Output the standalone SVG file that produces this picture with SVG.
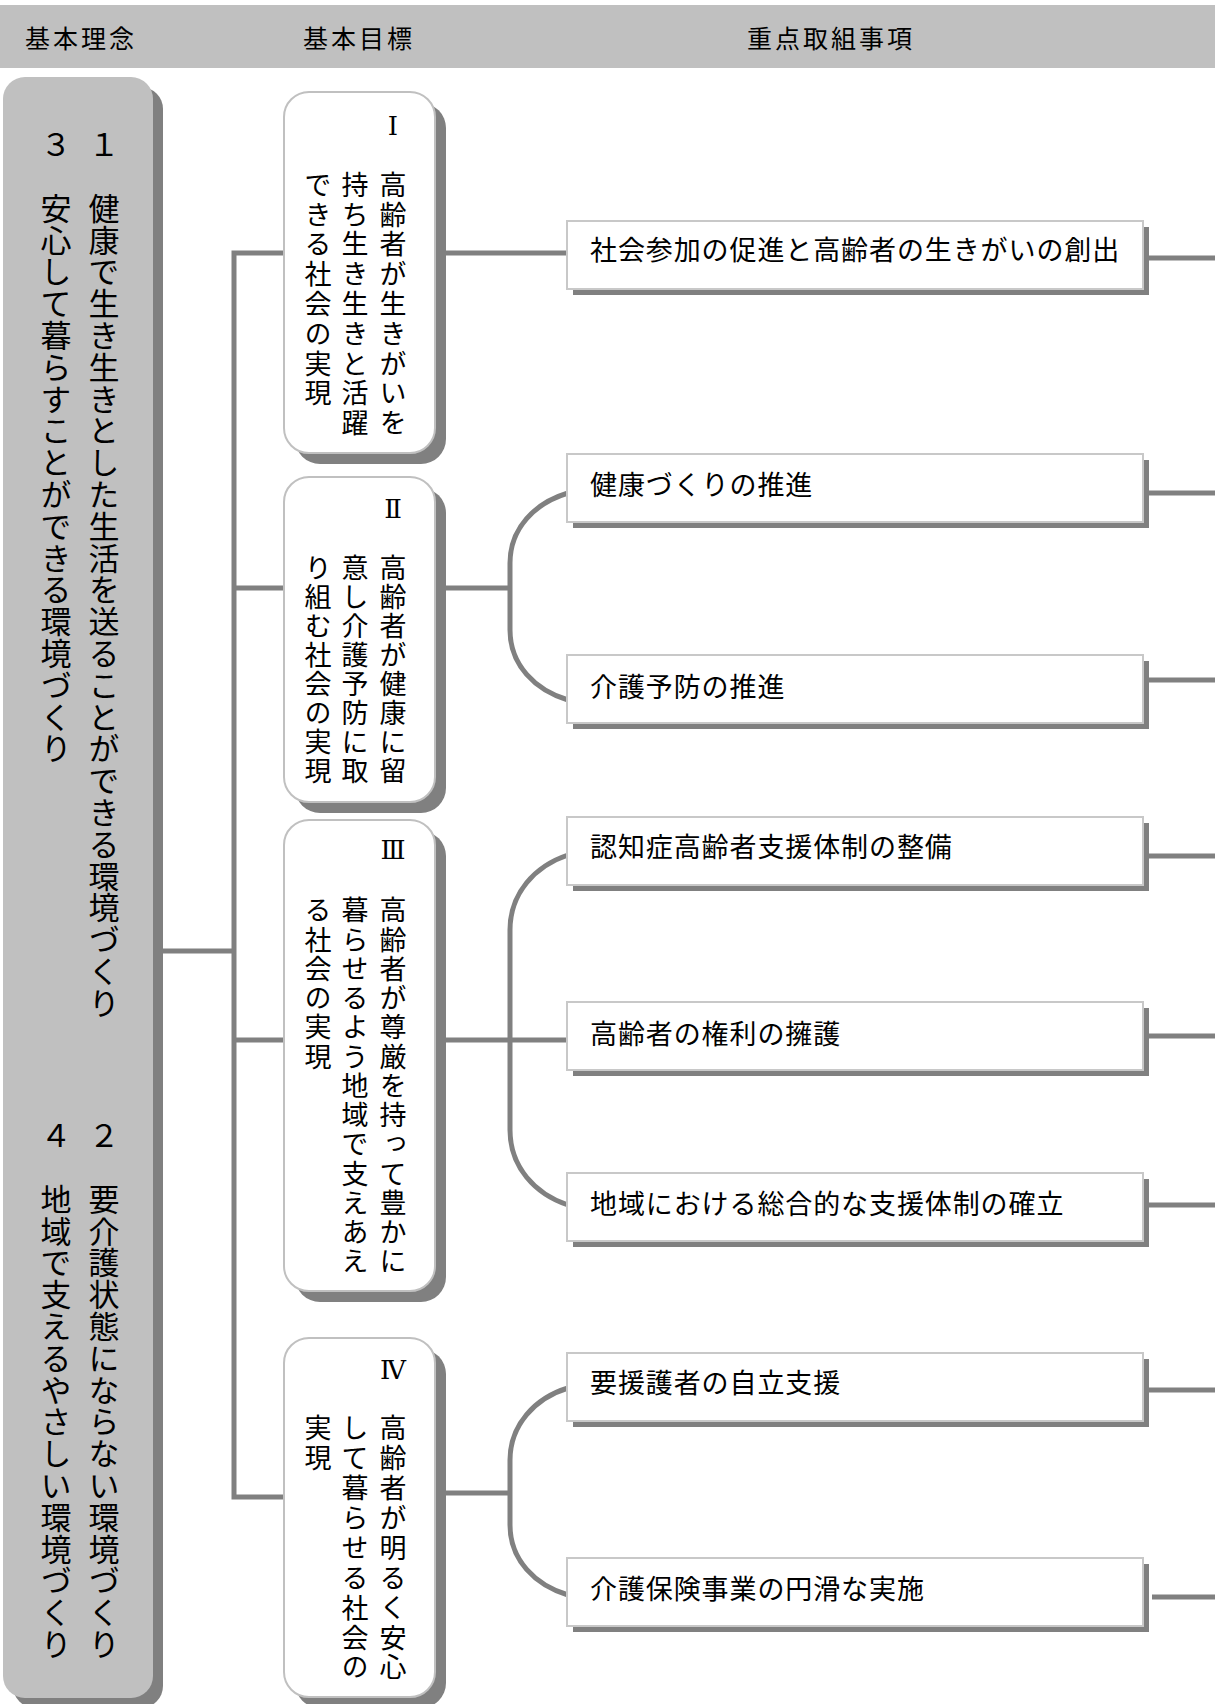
<svg xmlns="http://www.w3.org/2000/svg" width="1215" height="1704" viewBox="0 0 1215 1704">
<style>
.hdr{font-family:"Noto Sans CJK JP","Noto Sans CJK SC",sans-serif;font-size:25px;letter-spacing:3px;dominant-baseline:central;fill:#000}
.vt{font-family:"Noto Sans CJK JP","Noto Sans CJK SC",sans-serif;writing-mode:vertical-rl;fill:#000}
.big{font-size:31px;letter-spacing:0.8px}
.goal{font-size:27px}
.num{font-family:"DejaVu Serif","Liberation Serif","Noto Sans CJK JP",serif;font-size:26px;text-anchor:middle;dominant-baseline:central;fill:#000}
.pt{font-family:"Noto Sans CJK JP","Noto Sans CJK SC",sans-serif;font-size:27px;letter-spacing:0.9px;dominant-baseline:central;fill:#000}
.shadow{fill:#808080}
.bigbox{fill:#c0c0c0}
.gbox{fill:#fff;stroke:#c0c0c0;stroke-width:2}
.pbox{fill:#fff;stroke:#c8c8c8;stroke-width:2}
.conn{fill:none;stroke:#808080;stroke-width:5;stroke-linejoin:miter}
</style>

<g id="header">
  <rect x="0" y="5" width="1215" height="63" fill="#c0c0c0"/>
  <text class="hdr" x="25" y="37">基本理念</text>
  <text class="hdr" x="303" y="37">基本目標</text>
  <text class="hdr" x="747" y="37">重点取組事項</text>
</g>

<g id="connectors">
  <path class="conn" d="M163,951 H234"/>
  <path class="conn" d="M286,253 H234 V1497 H286"/>
  <path class="conn" d="M234,588 H286"/>
  <path class="conn" d="M234,1040 H286"/>
  <path class="conn" d="M435,253 H568"/>
  <path class="conn" d="M435,588 H510"/>
  <path class="conn" d="M435,1040 H568"/>
  <path class="conn" d="M435,1493 H510"/>
  <path class="conn" d="M568,493 C535,503 510,528 510,563 L510,630 C510,665 535,690 568,700"/>
  <path class="conn" d="M568,855 C535,866 510,893 510,930 L510,1130 C510,1167 535,1194 568,1205"/>
  <path class="conn" d="M568,1388 C535,1398 510,1425 510,1460 L510,1525 C510,1560 535,1585 568,1595"/>
  <path class="conn" d="M1145,258 H1215"/>
  <path class="conn" d="M1145,493 H1215"/>
  <path class="conn" d="M1145,680 H1215"/>
  <path class="conn" d="M1145,856 H1215"/>
  <path class="conn" d="M1145,1036 H1215"/>
  <path class="conn" d="M1145,1205 H1215"/>
  <path class="conn" d="M1145,1390 H1215"/>
  <path class="conn" d="M1152,1597 H1215"/>
</g>

<g id="principle">
  <rect class="shadow" x="13" y="87" width="150" height="1621" rx="22"/>
  <rect class="bigbox" x="3" y="77" width="150" height="1621" rx="22"/>
  <text class="vt big" x="104" y="129">１　健康で生き生きとした生活を送ることができる環境づくり</text>
  <text class="vt big" x="56" y="129">３　安心して暮らすことができる環境づくり</text>
  <text class="vt big" x="104" y="1120">２　要介護状態にならない環境づくり</text>
  <text class="vt big" x="56" y="1120">４　地域で支えるやさしい環境づくり</text>
</g>

<g id="goal-1">
  <rect class="shadow" x="295" y="103" width="151" height="361" rx="25"/>
  <rect class="gbox" x="284" y="92" width="151" height="361" rx="25"/>
  <text class="num" x="393" y="126">Ⅰ</text>
  <text class="vt goal" x="393" y="171" letter-spacing="2.8">高齢者が生きがいを</text>
  <text class="vt goal" x="355" y="171" letter-spacing="2.8">持ち生き生きと活躍</text>
  <text class="vt goal" x="318" y="171" letter-spacing="2.8">できる社会の実現</text>
</g>

<g id="goal-2">
  <rect class="shadow" x="295" y="488" width="151" height="325" rx="25"/>
  <rect class="gbox" x="284" y="477" width="151" height="325" rx="25"/>
  <text class="num" x="393" y="509">Ⅱ</text>
  <text class="vt goal" x="393" y="554.5" letter-spacing="1.9">高齢者が健康に留</text>
  <text class="vt goal" x="355" y="554.5" letter-spacing="1.9">意し介護予防に取</text>
  <text class="vt goal" x="318" y="554.5" letter-spacing="1.9">り組む社会の実現</text>
</g>

<g id="goal-3">
  <rect class="shadow" x="295" y="831" width="151" height="471" rx="25"/>
  <rect class="gbox" x="284" y="820" width="151" height="471" rx="25"/>
  <text class="num" x="393" y="850">Ⅲ</text>
  <text class="vt goal" x="393" y="896.5" letter-spacing="2.25">高齢者が尊厳を持って豊かに</text>
  <text class="vt goal" x="355" y="896.5" letter-spacing="2.25">暮らせるよう地域で支えあえ</text>
  <text class="vt goal" x="318" y="896.5" letter-spacing="2.25">る社会の実現</text>
</g>

<g id="goal-4">
  <rect class="shadow" x="295" y="1349" width="151" height="359" rx="25"/>
  <rect class="gbox" x="284" y="1338" width="151" height="359" rx="25"/>
  <text class="num" x="393" y="1370">Ⅳ</text>
  <text class="vt goal" x="393" y="1414.5" letter-spacing="2.9">高齢者が明るく安心</text>
  <text class="vt goal" x="355" y="1414.5" letter-spacing="2.9">して暮らせる社会の</text>
  <text class="vt goal" x="318" y="1414.5" letter-spacing="2.9">実現</text>
</g>

<g id="item-1">
  <rect class="shadow" x="573" y="227" width="576" height="68"/>
  <rect class="pbox" x="567" y="221" width="576" height="68"/>
  <text class="pt" x="590" y="248">社会参加の促進と高齢者の生きがいの創出</text>
</g>
<g id="item-2">
  <rect class="shadow" x="573" y="460" width="576" height="68"/>
  <rect class="pbox" x="567" y="454" width="576" height="68"/>
  <text class="pt" x="590" y="483">健康づくりの推進</text>
</g>
<g id="item-3">
  <rect class="shadow" x="573" y="661" width="576" height="68"/>
  <rect class="pbox" x="567" y="655" width="576" height="68"/>
  <text class="pt" x="590" y="685">介護予防の推進</text>
</g>
<g id="item-4">
  <rect class="shadow" x="573" y="823" width="576" height="68"/>
  <rect class="pbox" x="567" y="817" width="576" height="68"/>
  <text class="pt" x="590" y="845">認知症高齢者支援体制の整備</text>
</g>
<g id="item-5">
  <rect class="shadow" x="573" y="1008" width="576" height="68"/>
  <rect class="pbox" x="567" y="1002" width="576" height="68"/>
  <text class="pt" x="590" y="1032">高齢者の権利の擁護</text>
</g>
<g id="item-6">
  <rect class="shadow" x="573" y="1179" width="576" height="68"/>
  <rect class="pbox" x="567" y="1173" width="576" height="68"/>
  <text class="pt" x="590" y="1202">地域における総合的な支援体制の確立</text>
</g>
<g id="item-7">
  <rect class="shadow" x="573" y="1359" width="576" height="68"/>
  <rect class="pbox" x="567" y="1353" width="576" height="68"/>
  <text class="pt" x="590" y="1381">要援護者の自立支援</text>
</g>
<g id="item-8">
  <rect class="shadow" x="573" y="1564" width="576" height="68"/>
  <rect class="pbox" x="567" y="1558" width="576" height="68"/>
  <text class="pt" x="590" y="1587">介護保険事業の円滑な実施</text>
</g>
</svg>
